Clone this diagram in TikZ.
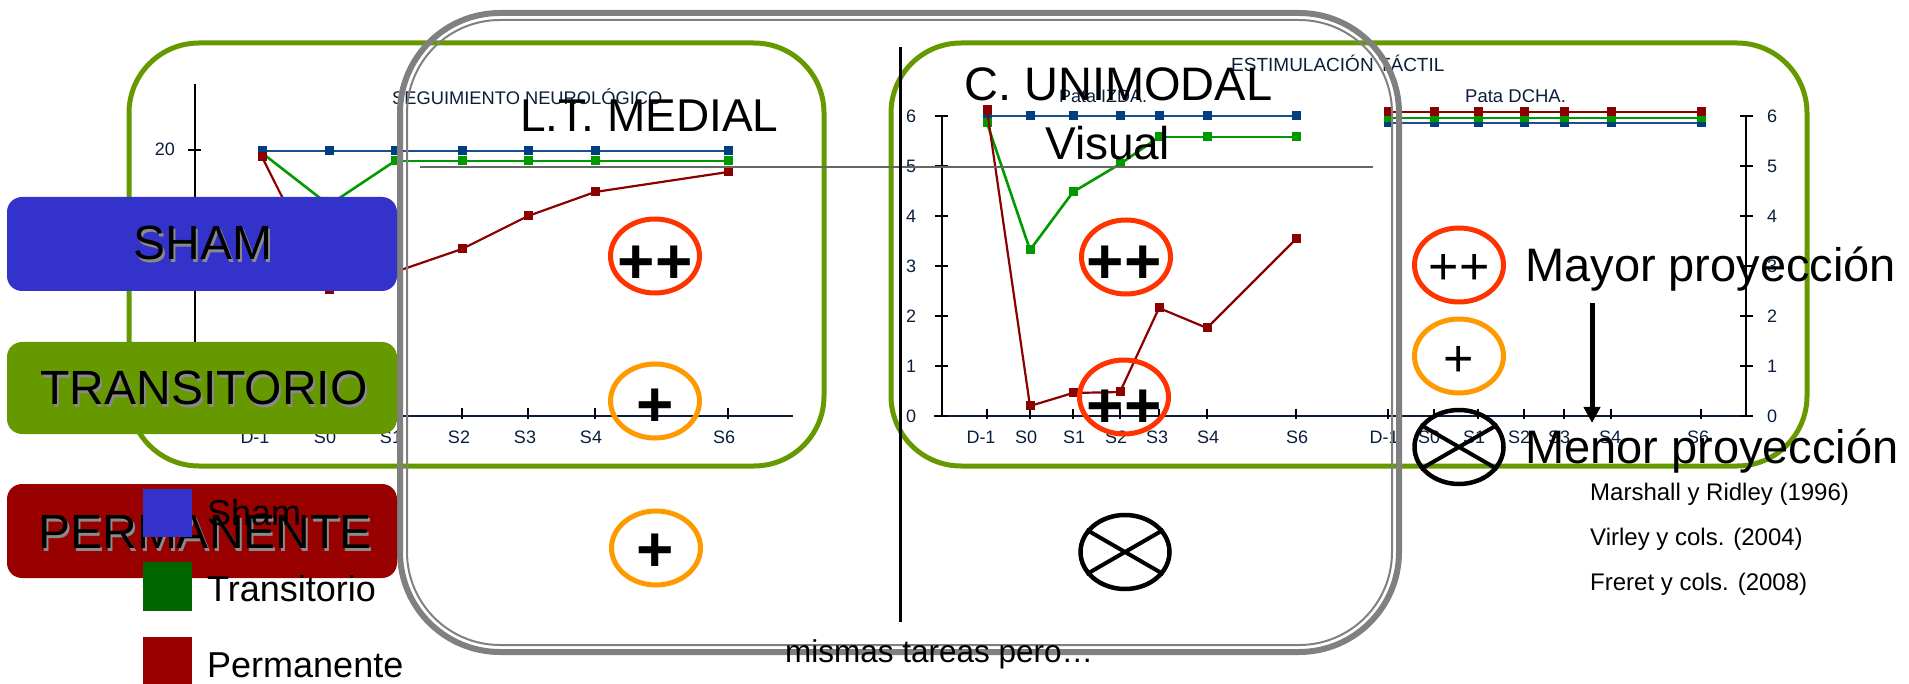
\documentclass[tikz,border=0pt]{standalone}
\usepackage{fontspec}
\setmainfont{Liberation Sans}
\usetikzlibrary{shapes.geometric,arrows.meta}
\definecolor{boxgreen}{HTML}{669900}
\definecolor{shamblue}{HTML}{3333CC}
\definecolor{permred}{HTML}{990000}
\definecolor{legendgreen}{HTML}{006600}
\definecolor{ringred}{HTML}{FF3300}
\definecolor{ringorange}{HTML}{FF9900}
\definecolor{framegray}{HTML}{808080}
\definecolor{axisnavy}{HTML}{0A1E3C}
\definecolor{lineblue}{HTML}{1A4F8F}
\definecolor{markblue}{HTML}{003F7F}
\definecolor{linegreen}{HTML}{009900}
\definecolor{linered}{HTML}{8B0000}
\definecolor{hgray}{HTML}{666666}
\definecolor{shadowgray}{HTML}{8A8A8A}
\newcommand\chartseries[3]{%
  \foreach \x/\y [count=\n] in {#3} {%
    \ifnum\n>1 \draw[#1] (\px,\py) -- (\x,\y);\fi
    \xdef\px{\x}\xdef\py{\y}}%
  \foreach \x/\y in {#3} {\fill[#2] (\x-4.5,\y-4.5) rectangle (\x+4.5,\y+4.5);}%
}
\begin{document}
\begin{tikzpicture}[x=1pt,y=-1pt,
  greenframe/.style={draw=boxgreen,line width=5pt,rounded corners=70pt,inner sep=0pt},
  grayouter/.style={draw=framegray,line width=6pt,rounded corners=100pt,inner sep=0pt},
  grayinner/.style={draw=framegray,line width=2pt,rounded corners=93pt,inner sep=0pt},
  catbox/.style={rounded corners=15pt,minimum width=390pt,inner sep=0pt},
  cattext/.style={inner sep=0pt,anchor=base,font=\fontsize{48}{48}\selectfont},
  ring/.style={ellipse,draw,line width=5pt,inner sep=0pt,minimum width=89pt,minimum height=74pt},
  plusbig/.style={inner sep=0pt,anchor=center,font=\fontsize{64}{64}\selectfont\bfseries},
  plussmall/.style={inner sep=0pt,anchor=center,font=\fontsize{52}{52}\selectfont},
  axlab/.style={inner sep=0pt,text=axisnavy,font=\fontsize{18}{18}\selectfont},
  xlab/.style={axlab,anchor=base},
  ylab/.style={axlab,anchor=center},
  axline/.style={draw=black,line width=2.5pt},
  tickline/.style={draw=black,line width=2pt},
  lblue/.style={draw=lineblue,line width=2pt,line cap=round},
  lgreen/.style={draw=linegreen,line width=2.6pt,line cap=round},
  lred/.style={draw=linered,line width=2.2pt,line cap=round},
  bigtext/.style={inner sep=0pt,anchor=base west,font=\fontsize{#1}{#1}\selectfont},
  navytext/.style={inner sep=0pt,anchor=base west,text=axisnavy,font=\fontsize{#1}{#1}\selectfont}
]
\useasboundingbox (0,0) rectangle (1909,684);

% green frames
\node[greenframe,minimum width=695pt,minimum height=423pt] (ltframe) at (476.5,254.5) {};
\node[greenframe,minimum width=916pt,minimum height=423pt] (cuframe) at (1349,254.5) {};

% ---------- left chart ----------
\draw[axline] (195,84) -- (195,416);
\draw[axline,draw=axisnavy] (195,416) -- (793,416);
\draw[tickline] (188,150) -- (201,150);
\node[axlab,anchor=base east] (l20) at (175,156) {20};
\foreach \x in {262,329,395,462,528,595,728} \draw[tickline] (\x,408) -- (\x,419);
\foreach \x/\t [count=\i] in {255/D-1,325/S0,391/S1,459/S2,525/S3,591/S4,724/S6}
  \node[xlab] (lx\i) at (\x,443) {\t};
\node[navytext=18.3] (seg) at (392,105) {SEGUIMIENTO NEUROLÓGICO};
\chartseries{lgreen}{linegreen}{262/153,329/205,395/161,462/161,528/161,595/161,728/161}
\chartseries{lblue}{markblue}{262/151,329/151,395/151,462/151,528/151,595/151,728/151}
\chartseries{lred}{linered}{262/157,329/290,395/272,462/249,528/216,595/192,728/172}

% ---------- middle / right chart ----------
\draw[axline] (942,116) -- (942,416);
\draw[axline] (1746,116) -- (1746,416);
\draw[axline,draw=axisnavy] (934,416) -- (1753,416);
\foreach \v in {0,...,6} {
  \draw[tickline] (935,416-50*\v) -- (948,416-50*\v);
  \draw[tickline] (1740,416-50*\v) -- (1753,416-50*\v);
  \node[ylab] (my\v) at (911,416-50*\v) {\v};
  \node[ylab] (ry\v) at (1772,416-50*\v) {\v};
}
\foreach \x in {987,1030,1073,1120,1159,1207,1296,1388,1434,1478,1524,1564,1611,1701}
  \draw[tickline] (\x,409) -- (\x,419);
\foreach \x/\t [count=\i] in {981/D-1,1026/S0,1074/S1,1116/S2,1157/S3,1208/S4,1297/S6,1384/D-1,1429/S0,1474/S1,1519/S2,1559/S3,1610/S4,1698/S6}
  \node[xlab] (mx\i) at (\x,443) {\t};
\node[navytext=19] (estim) at (1231,72) {ESTIMULACIÓN TÁCTIL};
\node[navytext=18] (izda) at (1059,103) {Pata IZDA.};
\node[navytext=18.5] (dcha) at (1465,103) {Pata DCHA.};
\chartseries{lblue}{markblue}{987/116,1030/116,1073/116,1120/116,1159/116,1207/116,1296/116}
\chartseries{lgreen}{linegreen}{987/123,1030/250,1073/192,1120/164,1159/137,1207/137,1296/137}
\chartseries{lred}{linered}{987/110,1030/406,1073/393,1120/392,1159/308,1207/328,1296/239}
\chartseries{lblue}{markblue}{1388/123,1434/123,1478/123,1524/123,1564/123,1611/123,1701/123}
\chartseries{lgreen}{linegreen}{1388/118,1434/118,1478/118,1524/118,1564/118,1611/118,1701/118}
\chartseries{lred}{linered}{1388/112,1434/112,1478/112,1524/112,1564/112,1611/112,1701/112}

% separators
\coordinate (hl1) at (420,167); \coordinate (hl2) at (1373,167);
\draw[hgray,line width=2.5pt] (hl1) -- (hl2);
\coordinate (vl1) at (900,47); \coordinate (vl2) at (900,622);
\draw[black,line width=3pt] (vl1) -- (vl2);

% gray double frame
\node[grayouter,minimum width=999pt,minimum height=639pt] (gframe) at (899.5,332.5) {};
\node[grayinner,minimum width=985pt,minimum height=625pt] (gframein) at (899.5,332.5) {};

% category boxes
\node[catbox,fill=shamblue,minimum height=94pt] (shambox) at (202,244) {};
\node[catbox,fill=boxgreen,minimum height=92pt] (transbox) at (202,388) {};
\node[catbox,fill=permred,minimum height=94pt] (permbox) at (202,531) {};
\node[cattext,text=shadowgray] (shamsh) at (205,263) {SHAM};
\node[cattext] (shamt) at (203,260) {SHAM};
\node[cattext,text=shadowgray] (transsh) at (206,408) {TRANSITORIO};
\node[cattext] (transt) at (204,405) {TRANSITORIO};
\node[cattext,text=shadowgray] (permsh) at (207,551) {PERMANENTE};
\node[cattext] (permt) at (205,548) {PERMANENTE};

% legend
\node[fill=shamblue,minimum width=49pt,minimum height=48pt,inner sep=0pt] (lgb) at (167.5,513) {};
\node[fill=legendgreen,minimum width=49pt,minimum height=49pt,inner sep=0pt] (lgg) at (167.5,586.5) {};
\node[fill=permred,minimum width=49pt,minimum height=48pt,inner sep=0pt] (lgr) at (167.5,661) {};
\node[bigtext=36] (lgbt) at (207,525) {Sham};
\node[bigtext=36] (lggt) at (207,601) {Transitorio};
\node[bigtext=36] (lgrt) at (207,677) {Permanente};

% titles
\node[bigtext=46] (ltm) at (520,132) {L.T. MEDIAL};
\node[bigtext=47] (cuni) at (964,101) {C. UNIMODAL};
\node[bigtext=46] (vis) at (1045,160) {Visual};

% rings
\node[ring,draw=ringred] (e1) at (655,256) {};
\node[plusbig] (p1) at (655,265) {++};
\node[ring,draw=ringorange] (e2) at (655,401) {};
\node[plusbig] (p2) at (655,408) {+};
\node[ring,draw=ringorange] (e3) at (656,548) {};
\node[plusbig] (p3) at (655,553) {+};
\node[ring,draw=ringred] (e4) at (1126,257) {};
\node[plusbig] (p4) at (1124,265) {++};
\node[ring,draw=ringred] (e5) at (1124,397) {};
\node[plusbig] (p5) at (1124,409) {++};
\node[ring,draw=black,line width=4.5pt] (e6) at (1125,552) {};
\draw[black,line width=4pt] (e6.150) -- (e6.-30) (e6.210) -- (e6.30);

% key on the right
\node[ring,draw=ringred] (k1) at (1459,265) {};
\node[plussmall] (kp1) at (1459,269) {++};
\node[ring,draw=ringorange] (k2) at (1459,356) {};
\node[plussmall] (kp2) at (1459,361) {+};
\node[ring,draw=black,line width=4.5pt] (k3) at (1459,447) {};
\draw[black,line width=4pt] (k3.150) -- (k3.-30) (k3.210) -- (k3.30);
\node[bigtext=47] (mayor) at (1525,282) {Mayor proyección};
\node[bigtext=47] (menor) at (1525,463) {Menor proyección};
\coordinate (arrtop) at (1592,303); \coordinate (arrtip) at (1592,423);
\draw[black,line width=5pt,-{Triangle[width=16pt,length=16pt]}] (arrtop) -- (arrtip);

% references
\node[bigtext=24] (ref1) at (1590,500) {Marshall y Ridley (1996)};
\node[bigtext=24] (ref2) at (1590,545) {Virley y cols. (2004)};
\node[bigtext=24] (ref3) at (1590,590) {Freret y cols. (2008)};
\node[bigtext=31.5] (misma) at (785,662) {mismas tareas pero…};
\end{tikzpicture}
\end{document}
